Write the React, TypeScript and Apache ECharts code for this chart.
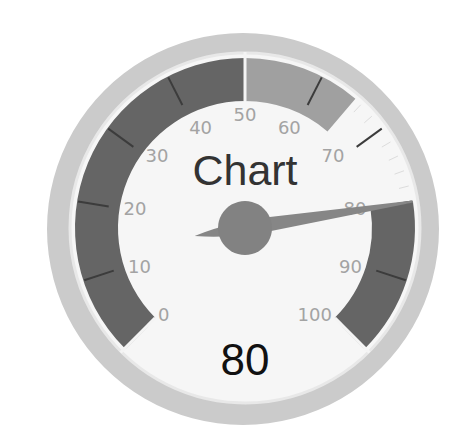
import { useEffect, useRef } from "react";
import * as echarts from "echarts";

// gauge reading
const gaugeTitle = "Chart";
const gaugeValue = 80;
const scaleMin = 0;
const scaleMax = 100;
const scaleSplits = 10;

// coloured bands: [upper value, colour]
const bandEnds = [50, 65, 80, 100];
const bandColors = ["#656565", "#a0a0a0", "rgba(0,0,0,0)", "#656565"];

const CX = 245;
const CY = 228;
const R = 170;
const BAND_W = 43;
const FONT = "Liberation Sans, Arial, sans-serif";

// needle (tip at top, tail at bottom), box 16 x 221
const NEEDLE =
    "path://M7 0 L9 0 L16 170 L13.5 185 Q13 200 8 221 Q3 200 2.5 185 L0 170 Z";

export default function App() {
    const ref = useRef<HTMLDivElement | null>(null);

    useEffect(() => {
        document.body.style.margin = "0";
        if (!ref.current) return;
        const chart = echarts.init(ref.current, undefined, { renderer: "svg" });

        const stops: [number, string][] = bandEnds.map((v, i) => [
            (v - scaleMin) / (scaleMax - scaleMin),
            bandColors[i],
        ]);

        const base = {
            type: "gauge" as const,
            center: [CX, CY],
            radius: R,
            min: scaleMin,
            max: scaleMax,
            startAngle: 225,
            endAngle: -45,
            pointer: { show: false },
            anchor: { show: false },
            title: { show: false },
            detail: { show: false },
            axisLabel: { show: false },
            axisTick: { show: false },
            splitLine: { show: false },
            axisLine: { show: true, lineStyle: { width: BAND_W, color: [[1, "rgba(0,0,0,0)"]] } },
        };

        chart.setOption({
            animation: false,
            backgroundColor: "#ffffff",
            textStyle: { fontFamily: FONT },
            graphic: [
                {
                    type: "circle",
                    z: -10,
                    shape: { cx: 243, cy: 229, r: 196 },
                    style: { fill: "#cbcbcb" },
                },
                {
                    type: "circle",
                    z: -9,
                    shape: { cx: CX, cy: CY, r: 175 },
                    style: { fill: "#f6f6f6", stroke: "#e8e8e8", lineWidth: 3 },
                },
            ],
            series: [
                // minor ticks, drawn under the bands
                {
                    ...base,
                    z: 1,
                    splitNumber: scaleSplits,
                    axisTick: {
                        show: true,
                        splitNumber: 5,
                        distance: -42,
                        length: 10,
                        lineStyle: { color: "#dcdcdc", width: 1 },
                    },
                    data: [{ value: gaugeValue }],
                },
                {
                    ...base,
                    z: 2,
                    splitNumber: scaleSplits,
                    axisLine: { lineStyle: { width: BAND_W, color: stops } },
                    splitLine: {
                        show: true,
                        distance: -42,
                        length: 31,
                        lineStyle: { color: "#3c3c3c", width: 2 },
                    },
                    axisLabel: {
                        show: true,
                        distance: 58,
                        color: "#a3a3a3",
                        fontSize: 18,
                        fontFamily: "DejaVu Sans, sans-serif",
                    },
                    pointer: {
                        show: true,
                        icon: NEEDLE,
                        length: 221,
                        width: 16,
                        offsetCenter: [0, 51],
                        itemStyle: { color: "#868686" },
                    },
                    anchor: {
                        show: true,
                        showAbove: true,
                        size: 54,
                        itemStyle: { color: "#828282" },
                    },
                    title: {
                        show: true,
                        offsetCenter: [0, -58],
                        fontSize: 43,
                        color: "#333333",
                        fontFamily: FONT,
                    },
                    detail: {
                        show: true,
                        offsetCenter: [0, 131],
                        fontSize: 44,
                        fontWeight: "normal",
                        color: "#111111",
                        fontFamily: FONT,
                        formatter: "{value}",
                    },
                    data: [{ value: gaugeValue, name: gaugeTitle }],
                },
                // light separator at the middle of the scale
                {
                    ...base,
                    z: 3,
                    splitNumber: 2,
                    splitLine: {
                        show: true,
                        distance: -49,
                        length: 49,
                        lineStyle: { color: "#f4f4f4", width: 3 },
                    },
                    data: [{ value: gaugeValue }],
                },
            ],
        });

        return () => chart.dispose();
    }, []);

    return <div ref={ref} style={{ width: 468, height: 439 }} />;
}
